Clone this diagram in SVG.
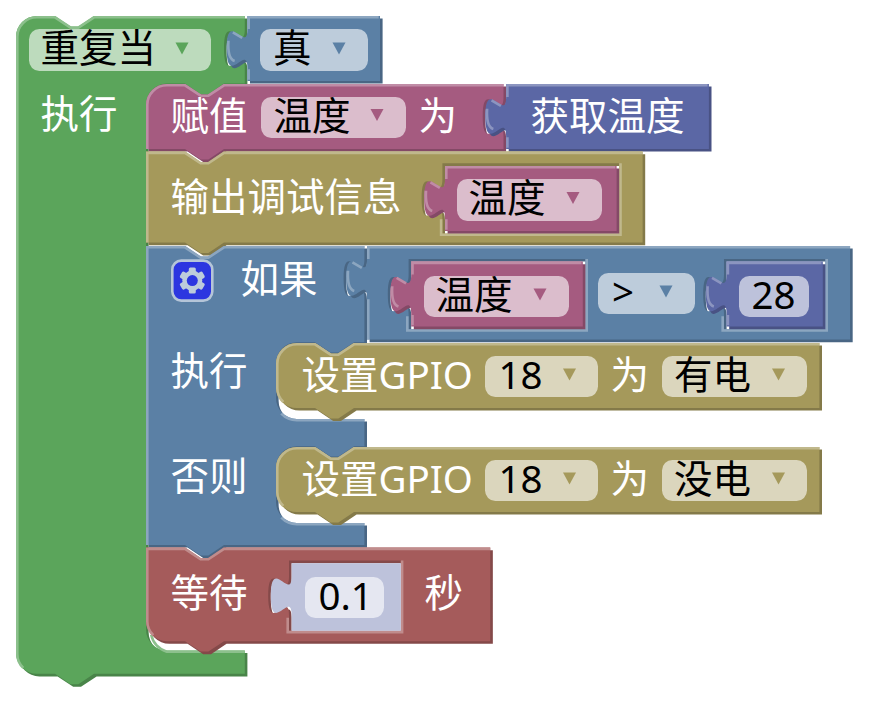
<svg xmlns="http://www.w3.org/2000/svg" width="875" height="701" viewBox="0 0 875 701">
<style>
text{font-family:"Noto Sans","Noto Sans CJK SC",sans-serif;font-size:38.500px;white-space:pre}
.w{fill:#fff}.k{fill:#000}
.pill{fill:#fff;fill-opacity:.6}
.s{fill-rule:evenodd}
.l{fill:none;stroke-width:1}
</style>
<defs>
<path id="arr" d="M-6.500,-6H6.500L0,6z"/>
<path id="pGreen" d="M0,8A8,8 0 0,1 8,0H15l6,4 3,0 6,-4H88v5c0,10 -8,-8 -8,7.500s8,-2.500 8,7.500V26H80l-6,4 -3,0 -6,-4H58a8,8 0 0,0 -8,8V236a8,8 0 0,0 8,8H88V253H30l-6,4 -3,0 -6,-4H8a8,8 0 0,1 -8,-8z"/>
<path id="pTrue" d="M0,25V20c0,-10 -8,8 -8,-7.500s8,2.500 8,-7.500V0H51V25z"/>
<path id="pSet" d="M0,8A8,8 0 0,1 8,0H15l6,4 3,0 6,-4H137.500v5c0,10 -8,-8 -8,7.500s8,-2.500 8,7.500V25H30l-6,4 -3,0 -6,-4H0z"/>
<path id="pGet" d="M0,25V20c0,-10 -8,8 -8,-7.500s8,2.500 8,-7.500V0H78V25z"/>
<path id="pVar" d="M0,25V20c0,-10 -8,8 -8,-7.500s8,2.500 8,-7.500V0H66V25z"/>
<path id="pNum" d="M0,25V20c0,-10 -8,8 -8,-7.500s8,2.500 8,-7.500V0H37V25z"/>
<path id="pPrint" d="M0,0H15l6,4 3,0 6,-4H191V35H30l-6,4 -3,0 -6,-4H0zM114,4.500H182V31.500H114V25.500c0,-10 -8,8 -8,-7.500s8,2.500 8,-7.500z"/>
<path id="pIf" d="M0,0H15l6,4 3,0 6,-4H84v5c0,10 -8,-8 -8,7.500s8,-2.500 8,7.500V37H80l-6,4 -3,0 -6,-4H58a8,8 0 0,0 -8,8V58.500a8,8 0 0,0 8,8H84V77H80l-6,4 -3,0 -6,-4H58a8,8 0 0,0 -8,8V98.500a8,8 0 0,0 8,8H84V115H30l-6,4 -3,0 -6,-4H0z"/>
<path id="pCmp" d="M0,36V20c0,-10 -8,8 -8,-7.500s8,2.500 8,-7.500V0H185.800V36zM16,5H84V32H16V26c0,-10 -8,8 -8,-7.500s8,2.500 8,-7.500zM137.300,5H176.300V32H137.300V26c0,-10 -8,8 -8,-7.500s8,2.500 8,-7.500z"/>
<path id="pGpio" d="M0,8A8,8 0 0,1 8,0H15l6,4 3,0 6,-4H209V25H30l-6,4 -3,0 -6,-4H8a8,8 0 0,1 -8,-8z"/>
<path id="pWait" d="M0,0H15l6,4 3,0 6,-4H132.400V36H30l-6,4 -3,0 -6,-4H8a8,8 0 0,1 -8,-8zM55,5H98V32H55V26c0,-10 -8,8 -8,-7.500s8,2.500 8,-7.500z"/>
<path id="lTab" d="M-2,8.400l-3.600,-2.100M-7.300,9.500q-.4,7 2.400,7.800"/>
<path id="lGpio" d="M2.800,22.700A7.500,7.500 0 0,1 .5,17V8A7.500,7.500 0 0,1 8,.5H15l6,4 3,0 6,-4H209"/>
</defs>

<g id="repeat-while">
<g transform="translate(16,16) scale(2.6)" class="s">
<use href="#pGreen" fill="#498449" transform="translate(1,1)"/>
<use href="#pGreen" fill="#5ba55b"/>
<path class="l" stroke="#8cc08c" d="M.5,245V8A7.500,7.500 0 0,1 8,.5H15l6,4 3,0 6,-4H88M52,238A8.500,8.500 0 0,0 58,244.500H88M2.800,250.700A7.500,7.500 0 0,1 .5,245"/>
</g>
<rect class="pill" x="29" y="29" width="182" height="42" rx="10.400"/>
<text class="k" x="40.500" y="62">重复当</text>
<use href="#arr" x="182" y="48.500" fill="#5ba55b"/>
<text class="w" x="40.500" y="128">执行</text>
</g>

<g id="true-block">
<g transform="translate(247.400,16) scale(2.6)">
<use href="#pTrue" fill="#496684" transform="translate(1,1)"/>
<use href="#pTrue" fill="#5b80a5"/>
<path class="l" stroke="#8ca6c0" d="M.5,24.500V20.500M.5,5V.5H50.500"/>
<use href="#lTab" class="l" stroke="#8ca6c0"/>
</g>
<rect class="pill" x="260" y="29" width="108" height="42" rx="10.400"/>
<text class="k" x="273" y="62">真</text>
<use href="#arr" x="339" y="48.500" fill="#5b80a5"/>
</g>

<g id="set-temp">
<g transform="translate(146,84) scale(2.6)">
<use href="#pSet" fill="#844966" transform="translate(1,1)"/>
<use href="#pSet" fill="#a55b80"/>
<path class="l" stroke="#c08ca6" d="M.5,25V8A7.500,7.500 0 0,1 8,.5H15l6,4 3,0 6,-4H137.500"/>
</g>
<text class="w" x="170.500" y="130">赋值</text>
<rect class="pill" x="261" y="97" width="145" height="41" rx="10.400"/>
<text class="k" x="273.500" y="130">温度</text>
<use href="#arr" x="377" y="115" fill="#a55b80"/>
<text class="w" x="418.500" y="130">为</text>
</g>

<g id="get-temp">
<g transform="translate(506.100,84) scale(2.6)">
<use href="#pGet" fill="#495284" transform="translate(1,1)"/>
<use href="#pGet" fill="#5b67a5"/>
<path class="l" stroke="#8c95c0" d="M.5,24.500V20.500M.5,5V.5H77.500"/>
<use href="#lTab" class="l" stroke="#8c95c0"/>
</g>
<text class="w" x="530.500" y="130">获取温度</text>
</g>

<g id="print-debug">
<g transform="translate(146,151.600) scale(2.6)" class="s">
<use href="#pPrint" fill="#847a49" transform="translate(1,1)"/>
<use href="#pPrint" fill="#a5995b"/>
<path class="l" stroke="#c0b88c" d="M.5,35V.5H15l6,4 3,0 6,-4H191M182.500,4.500V32H113.500V26"/>
</g>
<text class="w" x="170.500" y="211">输出调试信息</text>
</g>

<g id="print-var">
<g transform="translate(445,166) scale(2.6)">
<use href="#pVar" fill="#844966" transform="translate(1,1)"/>
<use href="#pVar" fill="#a55b80"/>
<path class="l" stroke="#c08ca6" d="M.5,24.500V20.500M.5,5V.5H65.500"/>
<use href="#lTab" class="l" stroke="#c08ca6"/>
</g>
<rect class="pill" x="457" y="179" width="145" height="42" rx="10.400"/>
<text class="k" x="468.500" y="212">温度</text>
<use href="#arr" x="573" y="198" fill="#a55b80"/>
</g>

<g id="if-block">
<g transform="translate(146,246) scale(2.6)">
<use href="#pIf" fill="#496684" transform="translate(1,1)"/>
<use href="#pIf" fill="#5b80a5"/>
<path class="l" stroke="#8ca6c0" d="M.5,115V.5H15l6,4 3,0 6,-4H84M52,64.500A8.500,8.500 0 0,0 58,67H84M52,104.500A8.500,8.500 0 0,0 58,107H84"/>
</g>
<g id="gear">
<rect x="172.300" y="260.600" width="40" height="40" rx="9" fill="#2c36e0" stroke="#b5c5d8" stroke-width="2.600"/>
<g fill="#bdccdb">
<circle cx="192.300" cy="280.600" r="10"/>
<rect x="188.800" y="267.600" width="7" height="26" rx="1.500"/>
<rect x="188.800" y="267.600" width="7" height="26" rx="1.500" transform="rotate(60 192.300 280.600)"/>
<rect x="188.800" y="267.600" width="7" height="26" rx="1.500" transform="rotate(120 192.300 280.600)"/>
</g>
<circle cx="192.300" cy="280.600" r="5.500" fill="#2c36e0"/>
</g>
<text class="w" x="240.500" y="293">如果</text>
<text class="w" x="170.500" y="385">执行</text>
<text class="w" x="170.500" y="490">否则</text>
</g>

<g id="compare">
<g transform="translate(367,246) scale(2.6)" class="s">
<use href="#pCmp" fill="#496684" transform="translate(1,1)"/>
<use href="#pCmp" fill="#5b80a5"/>
<path class="l" stroke="#8ca6c0" d="M.5,36V20.500M.5,5V.5H185.800M84.500,5V32.500H15.500V27M176.800,5V32.500H136.800V27"/>
<use href="#lTab" class="l" stroke="#8ca6c0"/>
</g>
<rect class="pill" x="598" y="273" width="97" height="41" rx="10.400"/>
<text class="k" x="612" y="306">&gt;</text>
<use href="#arr" x="666" y="291.500" fill="#5b80a5"/>
</g>

<g id="compare-var">
<g transform="translate(411.200,261.600) scale(2.6)">
<use href="#pVar" fill="#844966" transform="translate(1,1)"/>
<use href="#pVar" fill="#a55b80"/>
<path class="l" stroke="#c08ca6" d="M.5,24.500V20.500M.5,5V.5H65.500"/>
<use href="#lTab" class="l" stroke="#c08ca6"/>
</g>
<rect class="pill" x="424" y="276" width="145" height="41" rx="10.400"/>
<text class="k" x="435.500" y="309">温度</text>
<use href="#arr" x="540" y="294.500" fill="#a55b80"/>
</g>

<g id="compare-num">
<g transform="translate(726.600,261.600) scale(2.6)">
<use href="#pNum" fill="#495284" transform="translate(1,1)"/>
<use href="#pNum" fill="#5b67a5"/>
<path class="l" stroke="#8c95c0" d="M.5,24.500V20.500M.5,5V.5H36.500"/>
<use href="#lTab" class="l" stroke="#8c95c0"/>
</g>
<rect class="pill" x="739" y="276" width="70" height="41" rx="10.400"/>
<text class="k" x="751.500" y="309">28</text>
</g>

<g id="gpio-on">
<g transform="translate(276,343) scale(2.6)">
<use href="#pGpio" fill="#847a49" transform="translate(1,1)"/>
<use href="#pGpio" fill="#a5995b"/>
<use href="#lGpio" class="l" stroke="#c0b88c"/>
</g>
<text class="w" x="301.500" y="389">设置GPIO</text>
<rect class="pill" x="485" y="356" width="113" height="41" rx="10.400"/>
<text class="k" x="498.500" y="389">18</text>
<use href="#arr" x="569.500" y="374.500" fill="#a5995b"/>
<text class="w" x="610.500" y="389">为</text>
<rect class="pill" x="662" y="356" width="145" height="41" rx="10.400"/>
<text class="k" x="674" y="389">有电</text>
<use href="#arr" x="778.500" y="374.500" fill="#a5995b"/>
</g>

<g id="gpio-off">
<g transform="translate(276,447) scale(2.6)">
<use href="#pGpio" fill="#847a49" transform="translate(1,1)"/>
<use href="#pGpio" fill="#a5995b"/>
<use href="#lGpio" class="l" stroke="#c0b88c"/>
</g>
<text class="w" x="301.500" y="493">设置GPIO</text>
<rect class="pill" x="485" y="460" width="113" height="41" rx="10.400"/>
<text class="k" x="498.500" y="493">18</text>
<use href="#arr" x="569.500" y="478.500" fill="#a5995b"/>
<text class="w" x="610.500" y="493">为</text>
<rect class="pill" x="662" y="460" width="145" height="41" rx="10.400"/>
<text class="k" x="674" y="493">没电</text>
<use href="#arr" x="778.500" y="478.500" fill="#a5995b"/>
</g>

<g id="wait">
<g transform="translate(146,547.600) scale(2.6)" class="s">
<use href="#pWait" fill="#844949" transform="translate(1,1)"/>
<use href="#pWait" fill="#a55b5b"/>
<path class="l" stroke="#c08c8c" d="M2.800,33.700A7.500,7.500 0 0,1 .5,28V.5H15l6,4 3,0 6,-4H132.400M98.500,5V32.500H54.500V27"/>
</g>
<text class="w" x="170.500" y="607">等待</text>
<text class="w" x="424.500" y="607">秒</text>
</g>

<g id="wait-num">
<g transform="translate(291.600,563.200) scale(2.6)">
<path fill="#bdc2db" d="M0,26V20c0,-10 -8,8 -8,-7.500s8,2.500 8,-7.500V0H42V26z"/>
</g>
<rect class="pill" x="305" y="577" width="79" height="41" rx="10.400"/>
<text class="k" x="318.500" y="610">0.1</text>
</g>
</svg>
